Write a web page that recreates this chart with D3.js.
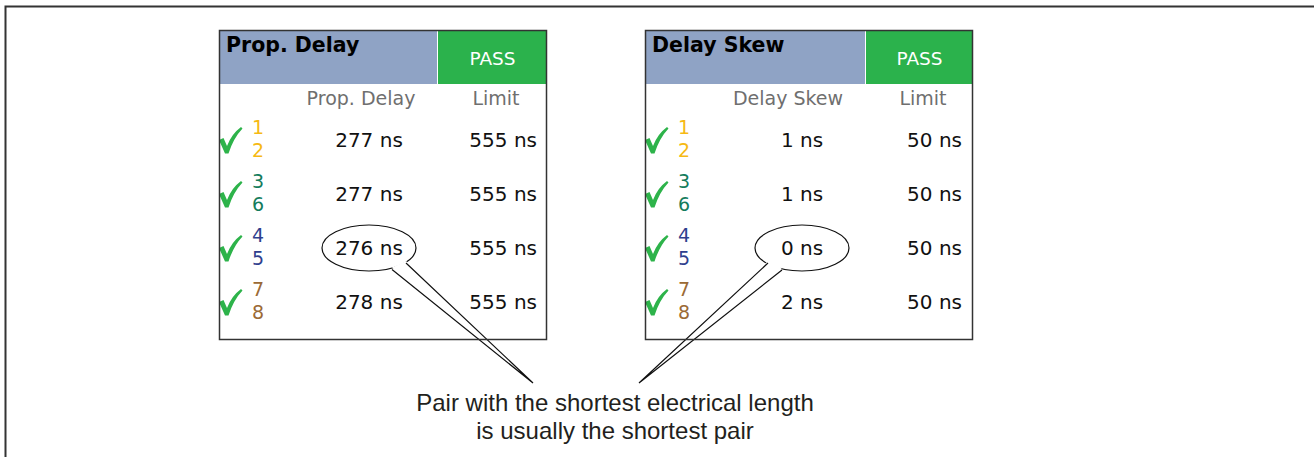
<!DOCTYPE html>
<html><head><meta charset="utf-8">
<script src="https://cdn.jsdelivr.net/npm/d3@7"></script>
<style>body{margin:0;background:#fff}svg{display:block}</style>
</head><body><svg id="c" width="1314" height="457"></svg>
<script>
const pairs = ["1|2","3|6","4|5","7|8"];
const pairColors = ["#f6b913","#147c5c","#2f3f8e","#9b6a35"];
const propDelay = [277,277,276,278];
const propLimit = [555,555,555,555];
const skew = [1,1,0,2];
const skewLimit = [50,50,50,50];
const panelTitles = ["Prop. Delay","Delay Skew"];
const statusText = "PASS";
const colLimit = "Limit";
const highlightPair = "4|5";
const note = ["Pair with the shortest electrical length","is usually the shortest pair"];

(function(){
const svg = d3.select("#c");
const FONT = "'DejaVu Sans', Verdana, sans-serif";

svg.append("rect").attr("x",5.5).attr("y",6.5).attr("width",1400).attr("height",500)
  .attr("fill","none").attr("stroke","#333").attr("stroke-width",2);

const panels = [
  {x0:219, title:panelTitles[0], vals:propDelay, lims:propLimit, valX:369, limX:537, colX:361, limColX:496, sepX:437},
  {x0:645, title:panelTitles[1], vals:skew, lims:skewLimit, valX:802, limX:962, colX:788, limColX:923, sepX:865}
];
const W = 327, pTop = 30, pBottom = 339;

const y = d3.scaleBand().domain(pairs).range([113, 329]);

const bubbles = [];
panels.forEach(p => {
  const g = svg.append("g");
  g.append("rect").attr("x",p.x0).attr("y",pTop).attr("width",p.sepX-p.x0).attr("height",54).attr("fill","#8fa3c5");
  g.append("rect").attr("x",p.sepX+1).attr("y",pTop).attr("width",p.x0+W-p.sepX-1).attr("height",54).attr("fill","#2bb24c");
  g.append("text").attr("x",p.x0+7).attr("y",pTop+22).attr("font-family",FONT).attr("font-weight","bold")
    .attr("font-size",20.5).attr("fill","#000").text(p.title);
  g.append("text").attr("x",(p.sepX+p.x0+W)/2+1).attr("y",pTop+35).attr("text-anchor","middle")
    .attr("font-family",FONT).attr("font-size",18.5).attr("fill","#fff").text(statusText);
  g.append("text").attr("x",p.colX).attr("y",105).attr("text-anchor","middle")
    .attr("font-family",FONT).attr("font-size",19).attr("fill","#6f6f6f").text(p.title);
  g.append("text").attr("x",p.limColX).attr("y",105).attr("text-anchor","middle")
    .attr("font-family",FONT).attr("font-size",19).attr("fill","#6f6f6f").text(colLimit);

  const rows = g.selectAll("g.row").data(pairs).join("g").attr("class","row")
    .attr("transform", d => `translate(0,${y(d)+y.bandwidth()/2})`);
  rows.append("path").attr("transform",`translate(${p.x0},0)`)
    .attr("d","M0,0 L4.5,-2 L8,6 Q12.5,-6 22,-13 L23.5,-11.5 Q14.5,-2 9.5,13.5 L6,13.5 Z")
    .attr("fill","#2db34a");
  rows.append("text").attr("x",p.x0+39).attr("y",-6).attr("text-anchor","middle")
    .attr("font-family",FONT).attr("font-size",19).attr("fill",(d,i)=>pairColors[i]).text(d=>d.split("|")[0]);
  rows.append("text").attr("x",p.x0+39).attr("y",17).attr("text-anchor","middle")
    .attr("font-family",FONT).attr("font-size",19).attr("fill",(d,i)=>pairColors[i]).text(d=>d.split("|")[1]);
  rows.append("text").attr("x",p.valX).attr("y",7).attr("text-anchor","middle")
    .attr("font-family",FONT).attr("font-size",20).attr("fill","#111").text((d,i)=>p.vals[i]+" ns");
  rows.append("text").attr("x",p.limX).attr("y",7).attr("text-anchor","end")
    .attr("font-family",FONT).attr("font-size",20).attr("fill","#111").text((d,i)=>p.lims[i]+" ns");

  bubbles.push({cx:p.valX, cy:y(highlightPair)+y.bandwidth()/2});
});

const apexY = 383;
const bspec = [
  {b:bubbles[0], a:[{dx:23,dy:21.5},{dx:37,dy:15}], apex:[533,apexY]},
  {b:bubbles[1], a:[{dx:-34,dy:15},{dx:-20,dy:22}], apex:[639,apexY]}
];
bspec.forEach(s => {
  const g = svg.append("g");
  g.append("ellipse").attr("cx",s.b.cx).attr("cy",s.b.cy).attr("rx",47).attr("ry",23)
    .attr("fill","none").attr("stroke","#111").attr("stroke-width",1.2);
  const p1=[s.b.cx+s.a[0].dx, s.b.cy+s.a[0].dy], p2=[s.b.cx+s.a[1].dx, s.b.cy+s.a[1].dy];
  g.append("path").attr("d",`M${p1[0]},${p1[1]-2} L${s.apex[0]},${s.apex[1]} L${p2[0]},${p2[1]-2} Z`)
    .attr("fill","#fff").attr("stroke","none");
  g.append("path").attr("d",`M${p1[0]},${p1[1]} L${s.apex[0]},${s.apex[1]} L${p2[0]},${p2[1]}`)
    .attr("fill","none").attr("stroke","#111").attr("stroke-width",1.2);
});

panels.forEach(p => {
  svg.append("rect").attr("x",p.x0+0.5).attr("y",pTop+0.5).attr("width",W).attr("height",pBottom-pTop)
    .attr("fill","none").attr("stroke","#333").attr("stroke-width",1.5);
});

note.forEach((t,i) => {
  svg.append("text").attr("x",615).attr("y",411+i*28).attr("text-anchor","middle")
    .attr("font-family","'Liberation Sans', Arial, sans-serif").attr("font-size",24).attr("fill","#231f20").text(t);
});
})();
</script></body></html>
